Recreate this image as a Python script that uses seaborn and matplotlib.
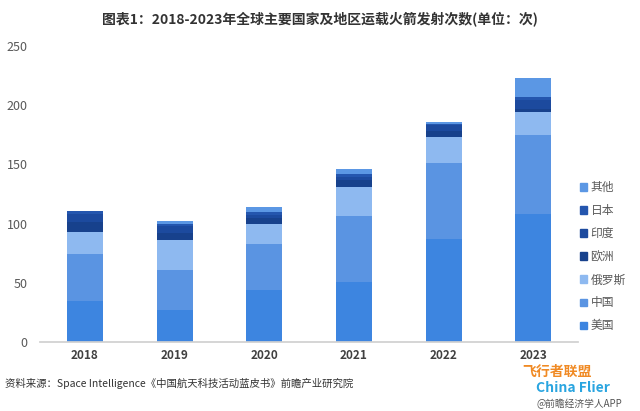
import numpy as np
import pandas as pd
import seaborn as sns
import matplotlib.pyplot as plt
from matplotlib.patches import Patch

sns.set_theme(style="white")
plt.rcParams['font.family'] = ['Noto Sans CJK SC', 'DejaVu Sans']

years = ["2018", "2019", "2020", "2021", "2022", "2023"]
series = ["美国", "中国", "俄罗斯", "欧洲", "印度", "日本", "其他"]
usa = [35, 27, 44, 51, 87, 108]
china = [39, 34, 39, 55, 64, 67]
russia = [19, 25, 17, 25, 22, 19]
europe = [8, 6, 5, 6, 5, 3]
india = [7, 6, 2, 2, 5, 7]
japan = [3, 2, 3, 3, 1, 3]
other = [0, 2, 4, 4, 2, 16]
colors = ["#3D85E0", "#5A94E2", "#8EB9F0", "#17418C", "#1C4A9E", "#2456AE", "#5B97E4"]

df = pd.DataFrame({"年份": years, "美国": usa, "中国": china, "俄罗斯": russia,
                   "欧洲": europe, "印度": india, "日本": japan, "其他": other})
cum = df[series].cumsum(axis=1)

fig = plt.figure(figsize=(6.4, 4.11), dpi=100)
ax = fig.add_axes([0.0625, 0.168, 0.841, 0.72])

# stacked bars: draw cumulative totals from the top series down
for name, col in reversed(list(zip(series, colors))):
    sns.barplot(x=df["年份"], y=cum[name], color=col, width=0.4,
                saturation=1, ax=ax, linewidth=0)

ax.set_xlim(-0.5, 5.5)
ax.set_ylim(0, 250)
ax.set_yticks([0, 50, 100, 150, 200, 250])
ax.set_xlabel("")
ax.set_ylabel("")
for s in ["top", "right", "left"]:
    ax.spines[s].set_visible(False)
ax.spines["bottom"].set_color("#D0D0D0")
ax.tick_params(axis="y", labelsize=9, colors="#595959", length=0, pad=9)
ax.tick_params(axis="x", labelsize=8.5, colors="#404040", length=0, pad=5)
for t in ax.get_xticklabels():
    t.set_fontweight("bold")

handles = [Patch(color=c, label=n) for n, c in zip(series, colors)][::-1]
leg = fig.legend(handles=handles, loc="center left", bbox_to_anchor=(0.893, 0.375),
                 frameon=False, fontsize=8.5, handlelength=0.6, handleheight=0.6,
                 handletextpad=0.3, labelspacing=0.85, labelcolor="#595959",
                 borderpad=0.2)

fig.text(0.5, 0.955, "图表1：2018-2023年全球主要国家及地区运载火箭发射次数(单位：次)",
         ha="center", va="center", fontsize=10, fontweight="bold", color="#333333")
fig.text(0.008, 0.068, "资料来源：Space Intelligence《中国航天科技活动蓝皮书》前瞻产业研究院",
         ha="left", va="center", fontsize=7.5, color="#333333")
fig.text(0.87, 0.095, "飞行者联盟", ha="center", va="center", fontsize=10,
         fontweight="bold", color="#F08A24")
fig.text(0.895, 0.055, "China Flier", ha="center", va="center", fontsize=10,
         fontweight="bold", color="#2AA5E0")
fig.text(0.905, 0.018, "@前瞻经济学人APP", ha="center", va="center", fontsize=7,
         color="#555555")

fig.savefig("out.png", dpi=100)
